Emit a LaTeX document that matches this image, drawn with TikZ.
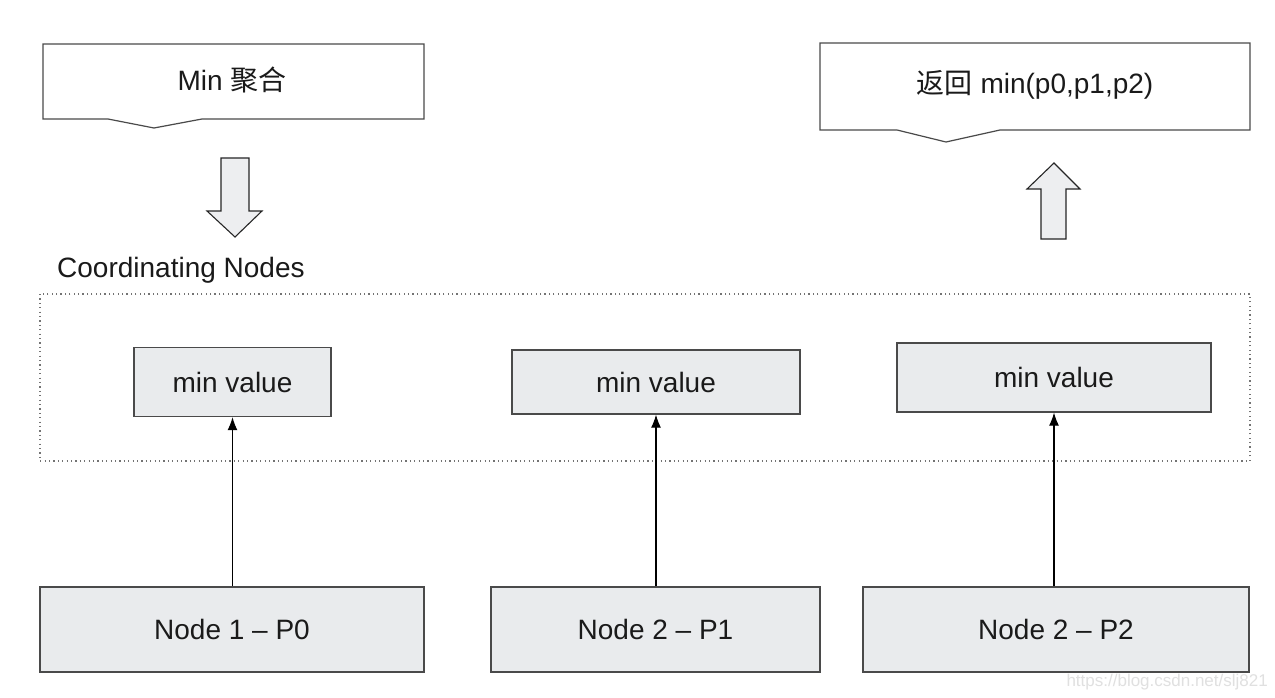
\documentclass[tikz,border=0pt]{standalone}
\usepackage{fontspec}
\setmainfont{Liberation Sans}
\newfontfamily\cjk{Noto Sans CJK SC}
\usetikzlibrary{arrows.meta}
\definecolor{boxfill}{HTML}{E9EBED}
\definecolor{boxline}{HTML}{4A4A4A}
\definecolor{txt}{HTML}{1A1A1A}
\definecolor{arrfill}{HTML}{EDEEF0}
\tikzset{
  x=1pt, y=-1pt,
  lbl/.style={font=\fontsize{28}{34}\selectfont, text=txt, inner sep=0pt},
  grayblock/.style={draw=boxline, line width=1.3pt, fill=boxfill, inner sep=0pt},
  docshape/.style={draw=boxline, line width=1.2pt, fill=white, line join=miter},
  blockarrow/.style={draw=black!85, line width=1.1pt, fill=arrfill, line join=miter},
  conn/.style={draw=black, line width=1.1pt, -{Latex[length=13pt,width=10pt]}},
}
\begin{document}
\begin{tikzpicture}
\useasboundingbox[fill=white] (0,0) rectangle (1275,698);

% top-left document shape
\draw[docshape] (43,44) -- (424,44) -- (424,119) -- (202,119) -- (154,128) -- (108,119) -- (43,119) -- cycle;
\node[lbl] (agg) at (232,80) {Min {\cjk 聚合}};

% top-right document shape
\draw[docshape] (820,43) -- (1250,43) -- (1250,130) -- (1000,130) -- (946,142) -- (897,130) -- (820,130) -- cycle;
\node[lbl] (ret) at (1035,85) {{\cjk 返回} min(p0,p1,p2)};

% block arrows
\draw[blockarrow] (221,158) -- (249,158) -- (249,211) -- (262,211) -- (235,237) -- (207,211) -- (221,211) -- cycle;
\draw[blockarrow] (1041,239) -- (1066,239) -- (1066,189) -- (1080,189) -- (1054,163) -- (1027,189) -- (1041,189) -- cycle;

% coordinating nodes region
\node[lbl, anchor=west] (coordlbl) at (57,270) {Coordinating Nodes};
\draw[draw=black!55, line width=1.2pt, dash pattern=on 1.2pt off 3.2pt] (40,294) rectangle (1250,461);

% min value boxes
\node[grayblock, minimum width=197pt, minimum height=69pt] (mv1) at (232.5,382) {};
\node[lbl] at (mv1) {min value};
\node[grayblock, minimum width=288pt, minimum height=64pt] (mv2) at (656,382) {};
\node[lbl] at (mv2) {min value};
\node[grayblock, minimum width=314pt, minimum height=69pt] (mv3) at (1054,377.5) {};
\node[lbl] at (mv3) {min value};

% data nodes
\node[grayblock, minimum width=384pt, minimum height=85pt] (n1) at (232,629.5) {};
\node[lbl] at (n1) {Node 1 -- P0};
\node[grayblock, minimum width=329pt, minimum height=85pt] (n2) at (655.5,629.5) {};
\node[lbl] at (n2) {Node 2 -- P1};
\node[grayblock, minimum width=386pt, minimum height=85pt] (n3) at (1056,629.5) {};
\node[lbl] at (n3) {Node 2 -- P2};

% connectors
\draw[conn] (n1.north -| mv1.south) -- (mv1.south);
\draw[conn] (n2.north -| mv2.south) -- (mv2.south);
\draw[conn] (n3.north -| mv3.south) -- (mv3.south);

% watermark
\node[font=\fontsize{17}{20}\selectfont, text=black!12, anchor=east, inner sep=0pt] (wm) at (1268,682) {https://blog.csdn.net/slj821};
\end{tikzpicture}
\end{document}
